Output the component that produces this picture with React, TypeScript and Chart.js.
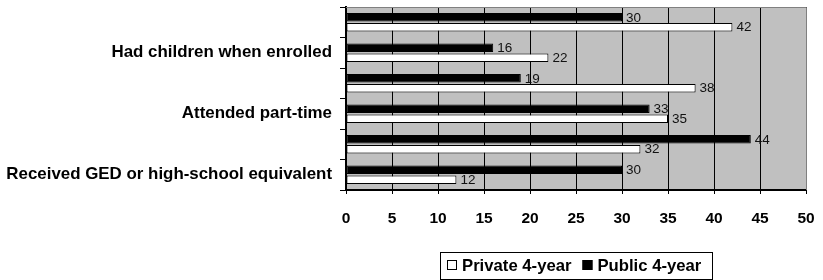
import React, { useEffect, useRef } from "react";
import { Chart, registerables } from "chart.js";

Chart.register(...registerables);

// Categories top to bottom (hidden labels are skipped in the reference)
const categories = [
  "",
  "Had children when enrolled",
  "",
  "Attended part-time",
  "",
  "Received GED or high-school equivalent",
];
const publicValues = [30, 16, 19, 33, 44, 30];
const privateValues = [42, 22, 38, 35, 32, 12];
const seriesNames = ["Private 4-year", "Public 4-year"];
const xMin = 0;
const xMax = 50;
const xStep = 5;

const FONT = "Arial, 'Liberation Sans', sans-serif";

const bgPlugin = {
  id: "plotBg",
  beforeDraw(chart: any) {
    const { ctx, chartArea } = chart;
    ctx.save();
    ctx.fillStyle = "#c0c0c0";
    ctx.fillRect(chartArea.left, chartArea.top, chartArea.right - chartArea.left, chartArea.bottom - chartArea.top);
    ctx.restore();
  },
  afterDraw(chart: any) {
    const { ctx, chartArea } = chart;
    ctx.save();
    ctx.strokeStyle = "#808080";
    ctx.lineWidth = 1;
    ctx.beginPath();
    ctx.moveTo(chartArea.left, chartArea.top + 0.5);
    ctx.lineTo(chartArea.right + 0.5, chartArea.top + 0.5);
    ctx.lineTo(chartArea.right + 0.5, chartArea.bottom);
    ctx.stroke();
    ctx.restore();
  },
};

const valueLabelPlugin = {
  id: "valueLabels",
  afterDatasetsDraw(chart: any) {
    const { ctx } = chart;
    ctx.save();
    ctx.font = `13.5px ${FONT}`;
    ctx.fillStyle = "#111";
    ctx.textAlign = "left";
    ctx.textBaseline = "middle";
    chart.data.datasets.forEach((ds: any, i: number) => {
      const meta = chart.getDatasetMeta(i);
      meta.data.forEach((bar: any, j: number) => {
        ctx.fillText(String(ds.data[j]), bar.x + 4, bar.y + 0.5);
      });
    });
    ctx.restore();
  },
};

const legendPlugin = {
  id: "boxLegend",
  afterDraw(chart: any) {
    const { ctx, chartArea } = chart;
    ctx.save();
    ctx.font = `bold 16.7px ${FONT}`;
    const items = [
      { text: seriesNames[0], fill: "#ffffff" },
      { text: seriesNames[1], fill: "#000000" },
    ];
    const sq = 10;
    const gap = 5;
    const itemGap = 11;
    const pad = 9;
    const widths = items.map((it) => ctx.measureText(it.text).width);
    let content = 0;
    widths.forEach((w, i) => {
      content += sq + gap + w + (i < items.length - 1 ? itemGap : 0);
    });
    const boxW = content + pad * 2;
    const cx = (chartArea.left + chartArea.right) / 2;
    const boxX = Math.round(cx - boxW / 2);
    const boxY = 252;
    const boxH = 27;
    ctx.fillStyle = "#fff";
    ctx.fillRect(boxX, boxY, boxW, boxH);
    ctx.strokeStyle = "#000";
    ctx.lineWidth = 1;
    ctx.strokeRect(boxX + 0.5, boxY + 0.5, Math.round(boxW), boxH);
    let x = boxX + pad - 2;
    const cy = boxY + 14;
    items.forEach((it, i) => {
      ctx.fillStyle = it.fill;
      ctx.fillRect(x, cy - sq / 2 - 1, sq, sq);
      ctx.strokeStyle = "#000";
      ctx.strokeRect(x + 0.5, cy - sq / 2 - 0.5, sq - 1, sq - 1);
      x += sq + gap;
      ctx.fillStyle = "#000";
      ctx.textAlign = "left";
      ctx.textBaseline = "middle";
      ctx.fillText(it.text, x, cy);
      x += widths[i] + itemGap;
    });
    ctx.restore();
  },
};

export default function App() {
  const ref = useRef<HTMLCanvasElement | null>(null);

  useEffect(() => {
    if (!ref.current) return;
    const chart = new Chart(ref.current, {
      type: "bar",
      data: {
        labels: categories,
        datasets: [
          {
            label: seriesNames[1],
            data: publicValues,
            backgroundColor: "#000000",
            borderColor: "#000000",
            borderWidth: 1,
            borderSkipped: false,
            categoryPercentage: 0.64,
            barPercentage: 0.87,
          },
          {
            label: seriesNames[0],
            data: privateValues,
            backgroundColor: "#ffffff",
            borderColor: "#000000",
            borderWidth: 1,
            borderSkipped: false,
            categoryPercentage: 0.64,
            barPercentage: 0.87,
          },
        ],
      },
      options: {
        indexAxis: "y",
        animation: false,
        responsive: true,
        maintainAspectRatio: false,
        layout: { padding: { left: 0, right: 17, top: 7, bottom: 45 } },
        plugins: {
          legend: { display: false },
          tooltip: { enabled: false },
        },
        scales: {
          x: {
            type: "linear",
            min: xMin,
            max: xMax,
            ticks: {
              stepSize: xStep,
              color: "#000",
              font: { family: FONT, size: 15.5, weight: "bold" },
              padding: 15,
            },
            grid: {
              color: "#000",
              lineWidth: 1,
              drawTicks: true,
              tickLength: 4,
            },
            border: { display: true, color: "#000", width: 2 },
            afterFit(scale: any) {
              scale.height = 45;
              scale.paddingLeft = 0;
              scale.paddingRight = 0;
            },
          },
          y: {
            type: "category",
            ticks: {
              autoSkip: false,
              color: "#000",
              font: { family: FONT, size: 16.9, weight: "bold" },
              padding: 8,
            },
            grid: {
              display: true,
              drawOnChartArea: false,
              drawTicks: true,
              tickLength: 6,
              color: "#000",
              offset: true,
            },
            border: { display: true, color: "#000", width: 2 },
            afterFit(scale: any) {
              scale.width = 346;
              scale.paddingTop = 0;
              scale.paddingBottom = 0;
            },
          },
        },
      },
      plugins: [bgPlugin, valueLabelPlugin, legendPlugin],
    });
    return () => chart.destroy();
  }, []);

  return (
    <div style={{ position: "absolute", left: 0, top: 0, width: 823, height: 280, background: "#fff" }}>
      <canvas ref={ref} />
    </div>
  );
}
